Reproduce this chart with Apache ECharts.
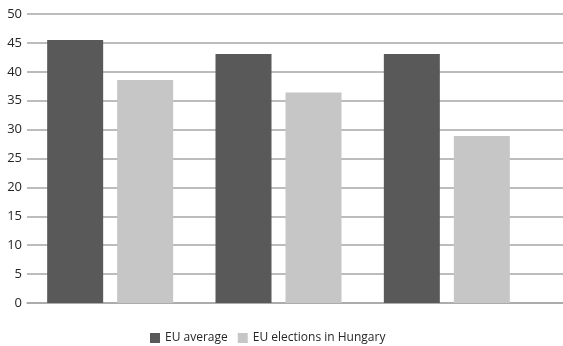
<!DOCTYPE html>
<html>
<head>
<meta charset="utf-8">
<script src="https://cdn.jsdelivr.net/npm/echarts@6/dist/echarts.min.js"></script>
<style>
  html, body { margin: 0; padding: 0; background: #fff; }
  #chart { width: 563px; height: 346px; }
</style>
</head>
<body>
<div id="chart"></div>
<script>
// data
const categories = ["", "", ""];
const euAverage = [45.5, 43.1, 43.1];
const euHungary = [38.6, 36.4, 28.9];
const yTicks = [0, 50, 5]; // min, max, step

const myChart = echarts.init(document.getElementById("chart"));

myChart.setOption({
  animation: false,
  textStyle: { fontFamily: "Open Sans" },
  legend: {
    left: 150,
    top: 332,
    padding: 0,
    itemWidth: 10,
    itemHeight: 10,
    itemGap: 10,
    icon: "rect",
    textStyle: { color: "#262626", fontSize: 12, fontFamily: "Open Sans" },
    data: ["EU average", "EU elections in Hungary"]
  },
  grid: [
    // bars
    { left: 26, top: 14, width: 505, height: 289 },
    // gridlines and y labels, full width
    { left: 27, top: 14, right: 0, height: 289 }
  ],
  xAxis: [
    {
      gridIndex: 0,
      type: "category",
      data: categories,
      axisLine: { show: false },
      axisTick: { show: false },
      axisLabel: { show: false }
    },
    {
      gridIndex: 1,
      type: "category",
      data: [""],
      axisLine: { show: true, lineStyle: { color: "#a6a6a6", width: 1.5 } },
      axisTick: { show: false },
      axisLabel: { show: false }
    }
  ],
  yAxis: [
    {
      gridIndex: 0,
      type: "value",
      min: yTicks[0],
      max: yTicks[1],
      interval: yTicks[2],
      show: false,
      splitLine: { show: false }
    },
    {
      gridIndex: 1,
      type: "value",
      min: yTicks[0],
      max: yTicks[1],
      interval: yTicks[2],
      axisLine: { show: false },
      axisTick: { show: false },
      axisLabel: { color: "#262626", fontSize: 13, margin: 5 },
      splitLine: { lineStyle: { color: "#a6a6a6", width: 1.5 } }
    }
  ],
  series: [
    {
      name: "EU average",
      type: "bar",
      xAxisIndex: 0,
      yAxisIndex: 0,
      data: euAverage,
      barWidth: 56,
      barGap: "25%",
      itemStyle: { color: "#595959" },
      z: 3
    },
    {
      name: "EU elections in Hungary",
      type: "bar",
      xAxisIndex: 0,
      yAxisIndex: 0,
      data: euHungary,
      barWidth: 56,
      barGap: "25%",
      itemStyle: { color: "#c6c6c6" },
      z: 3
    }
  ]
});
</script>
</body>
</html>
